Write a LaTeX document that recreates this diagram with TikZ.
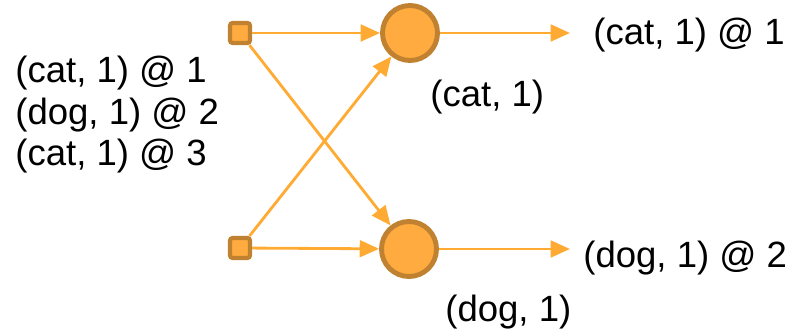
\documentclass[tikz,border=0pt]{standalone}
\usepackage{fontspec}
\setmainfont{Liberation Sans}
\usetikzlibrary{arrows.meta,positioning}
\definecolor{orfill}{HTML}{FFAB40}
\definecolor{ordraw}{HTML}{C08230}
\definecolor{orline}{HTML}{FFAA33}

\begin{document}
\begin{tikzpicture}[x=0.02cm, y=-0.02cm,
  font=\fontsize{20.8}{23.6}\selectfont,
  src/.style={draw=ordraw, fill=orfill, line width=2.4pt, rounded corners=1.5pt, minimum size=0.4cm, inner sep=0pt},
  red/.style={circle, draw=ordraw, fill=orfill, line width=2.8pt, minimum size=1.1cm, inner sep=0pt},
  flow/.style={draw=orline, line width=1.6pt, -{Triangle[length=11pt, width=9.5pt]}},
  lab/.style={anchor=west, inner sep=0pt},
  >=Stealth]
  \useasboundingbox (0,0) rectangle (812,334);
  % sources
  \node[src] (in1) at (240,33) {};
  \node[src] (in2) at (240,248) {};
  % reducers
  \node[red] (cat) at (410,33) {};
  \node[red] (dog) at (409,249) {};
  \coordinate (out1) at (570,33);
  \coordinate (out2) at (570,249);
  % shuffle
  \draw[flow] (in1) -- (cat);
  \draw[flow] (in1) -- (dog);
  \draw[flow] (in2) -- (cat);
  \draw[flow] (in2) -- (dog);
  % outputs
  \draw[flow] (cat) -- (out1);
  \draw[flow] (dog) -- (out2);
  % labels
  \node[lab, align=left] (stream) at (15,115) {(cat, 1) @ 1\\(dog, 1) @ 2\\(cat, 1) @ 3};
  \node[lab] (catlab) at (430,97) {(cat, 1)};
  \node[lab] (doglab) at (445,312) {(dog, 1)};
  \node[lab] (catout) at (593,35) {(cat, 1) @ 1};
  \node[lab] (dogout) at (583,258) {(dog, 1) @ 2};
\end{tikzpicture}
\end{document}
